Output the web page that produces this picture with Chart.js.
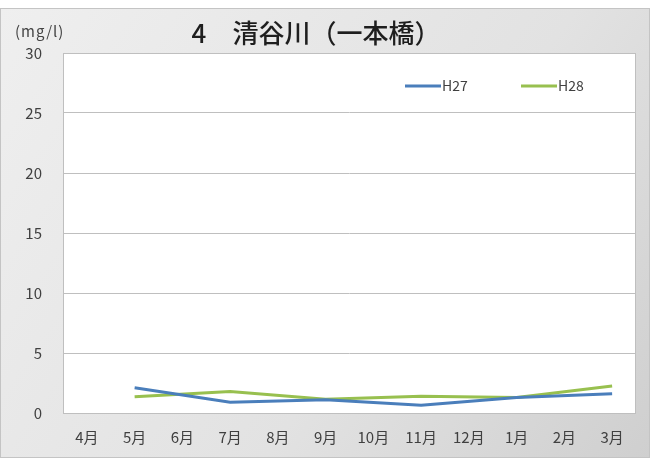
<!DOCTYPE html>
<html>
<head>
<meta charset="utf-8">
<script src="https://cdn.jsdelivr.net/npm/chart.js@4.4.1/dist/chart.umd.min.js"></script>
<style>
  html, body { margin: 0; padding: 0; background: #fff; }
  #wrap { width: 654px; height: 458px; position: relative; }
</style>
</head>
<body>
<div id="wrap"><canvas id="riverChart" width="654" height="458"></canvas></div>
<script>
// 清谷川（一本橋） monthly values, mg/l
const months = ['4月', '5月', '6月', '7月', '8月', '9月', '10月', '11月', '12月', '1月', '2月', '3月'];
const h27 = [null, 2.1, null, 0.9, null, 1.1, null, 0.65, null, 1.3, null, 1.6];
const h28 = [null, 1.35, null, 1.8, null, 1.15, null, 1.4, null, 1.3, null, 2.25];
const yTicks = [0, 5, 10, 15, 20, 25, 30];

const jpFont = "'Noto Sans CJK JP', 'Noto Sans', sans-serif";

// frame, plot background, title, unit and legend
const decor = {
    id: 'decor',
    beforeDraw(chart) {
        const c = chart.ctx, a = chart.chartArea;
        c.save();
        c.fillStyle = '#fff';
        c.fillRect(0, 0, chart.width, chart.height);
        const g = c.createLinearGradient(0, 8, 650, 458);
        g.addColorStop(0, '#efefef');
        g.addColorStop(0.6, '#e2e2e2');
        g.addColorStop(1, '#cfcfcf');
        c.fillStyle = g;
        c.fillRect(0, 8, 650, 450);
        c.strokeStyle = '#c4c4c4';
        c.lineWidth = 1;
        c.strokeRect(0.5, 8.5, 649, 449);
        c.fillStyle = '#fff';
        c.fillRect(a.left, a.top, a.right - a.left, a.bottom - a.top);
        c.restore();
    },
    afterDraw(chart) {
        const c = chart.ctx, a = chart.chartArea;
        c.save();
        c.strokeStyle = '#bfbfbf';
        c.lineWidth = 1;
        c.strokeRect(a.left + 0.5, a.top + 0.5, a.right - a.left - 1, a.bottom - a.top);

        c.fillStyle = '#1e1e1e';
        c.font = '500 26px ' + jpFont;
        c.textAlign = 'center';
        c.textBaseline = 'middle';
        c.fillText('4\u3000清谷川（一本橋）', 316, 33);

        c.fillStyle = '#444';
        c.font = '15px ' + jpFont;
        c.textAlign = 'left';
        c.letterSpacing = '1px';
        c.fillText('(mg/l)', 15, 31);
        c.letterSpacing = '0px';

        // legend
        const items = [[405, 0], [521, 1]];
        c.font = '14px ' + jpFont;
        items.forEach(([x, i]) => {
            const ds = chart.data.datasets[i];
            c.strokeStyle = ds.borderColor;
            c.lineWidth = 3;
            c.beginPath();
            c.moveTo(x, 86);
            c.lineTo(x + 36, 86);
            c.stroke();
            c.fillStyle = '#404040';
            c.fillText(ds.label, x + 37, 86);
        });
        c.restore();
    }
};

new Chart(document.getElementById('riverChart'), {
    type: 'line',
    data: {
        labels: months,
        datasets: [{
            label: 'H27',
            data: h27,
            borderColor: '#4a7ebb',
            borderWidth: 3,
            pointRadius: 0,
            spanGaps: true,
            tension: 0
        }, {
            label: 'H28',
            data: h28,
            borderColor: '#98c04f',
            borderWidth: 3,
            pointRadius: 0,
            spanGaps: true,
            tension: 0
        }]
    },
    options: {
        responsive: false,
        animation: false,
        layout: { padding: { top: 53, right: 18, left: 0, bottom: 0 } },
        plugins: {
            legend: { display: false },
            title: { display: false },
            tooltip: { enabled: false }
        },
        scales: {
            x: {
                offset: true,
                grid: { display: false },
                border: { display: false },
                ticks: { color: '#404040', font: { family: jpFont, size: 15 }, padding: 7, maxRotation: 0 },
                afterFit(s) { s.height = 45; }
            },
            y: {
                min: 0,
                max: 30,
                afterBuildTicks(s) { s.ticks = yTicks.map(v => ({ value: v })); },
                grid: { color: '#bfbfbf', drawTicks: false },
                border: { display: false },
                ticks: { color: '#404040', font: { family: jpFont, size: 15 }, padding: 21 },
                afterFit(s) { s.width = 63; }
            }
        }
    },
    plugins: [decor]
});
</script>
</body>
</html>
